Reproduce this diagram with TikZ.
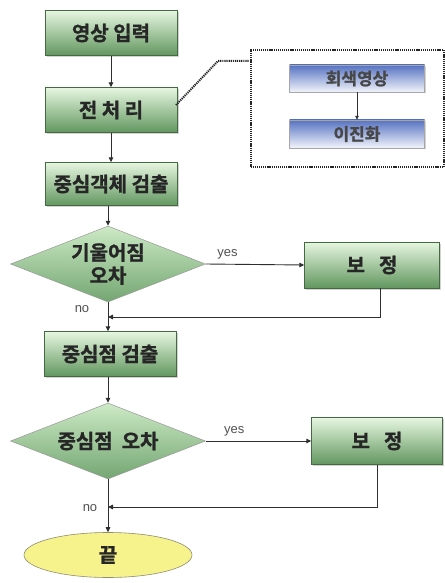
\documentclass[tikz,border=0pt]{standalone}
\usepackage{fontspec}
\newfontfamily\kr{Noto Sans CJK KR}[BoldFont={Noto Sans CJK KR Bold}, BoldFeatures={FakeBold=1.2}]
\newfontfamily\lat{Liberation Sans}
\usetikzlibrary{shapes.geometric,arrows.meta,shadows}
\definecolor{gtop}{HTML}{E6F6E0}
\definecolor{gbot}{HTML}{62975F}
\definecolor{dtop}{HTML}{CDEAC6}
\definecolor{dbot}{HTML}{73A671}
\definecolor{btop}{HTML}{5673C2}
\definecolor{bbot}{HTML}{F2F4FB}
\definecolor{txt}{HTML}{262626}
\definecolor{lin}{HTML}{2E2E2E}
\definecolor{ell}{HTML}{F7F38C}
\tikzset{
  greenbox/.style={draw=gbot!70!black, line width=0.4pt, top color=gtop, bottom color=gbot,
    minimum width=132pt, minimum height=45pt, inner sep=0pt,
    font=\kr\bfseries\fontsize{20}{22}\selectfont, text=txt,
    drop shadow={shadow xshift=1.5pt, shadow yshift=-1.5pt, opacity=0.35}},
  bluebox/.style={draw=gray!70, line width=0.4pt, top color=btop, bottom color=bbot,
    minimum width=135pt, minimum height=27pt, inner sep=0pt,
    font=\kr\bfseries\fontsize{17}{19}\selectfont, text=txt!85,
    drop shadow={shadow xshift=1.2pt, shadow yshift=-1.2pt, opacity=0.35}},
  decide/.style={diamond, draw=gray!80, line width=0.5pt, top color=dtop, bottom color=dbot,
    minimum width=195pt, minimum height=76pt, inner sep=0pt, aspect=2.56},
  dtext/.style={font=\kr\bfseries\fontsize{20}{23}\selectfont, text=txt, align=center},
  flow/.style={draw=lin, line width=0.9pt, -{Triangle[length=5pt,width=4.5pt]}},
  lab/.style={font=\lat\fontsize{13}{15}\selectfont, text=txt!80},
  dotline/.style={draw=black!85, line width=2pt, dash pattern=on 1.2pt off 0.9pt},
}
\begin{document}
\begin{tikzpicture}[x=1pt,y=-1pt]
\useasboundingbox (0,0) rectangle (444,583);
\fill[white] (0,0) rectangle (444,583);

\node[greenbox] (in) at (111,33) {영상 입력};
\node[greenbox] (pre) at (111,110) {전 처 리};
\node[greenbox, minimum height=43pt] (obj) at (111,184) {중심객체 검출};
\node[decide] (d1) at (108,264) {};
\node[dtext] (d1t) at (108,264) {기울어짐\\오차};
\node[greenbox, minimum width=135pt, minimum height=46pt] (fix1) at (372,265) {보\hspace{14pt}정};
\node[greenbox, minimum height=45pt] (cp) at (110,354) {중심점 검출};
\node[decide] (d2) at (108,441) {};
\node[dtext] (d2t) at (108,441) {중심점\hspace{9pt}오차};
\node[greenbox, minimum width=131pt, minimum height=47pt] (fix2) at (377,441) {보\hspace{14pt}정};
\node[ellipse, draw=gray!80!olive, line width=0.6pt, fill=ell, minimum width=168pt, minimum height=45pt,
  font=\kr\bfseries\fontsize{20}{22}\selectfont, text=txt] (end) at (108,555) {끝};

% inset
\node[dotline, minimum width=193pt, minimum height=117pt] (inset) at (347,108.5) {};
\node[bluebox] (gray) at (357,78.5) {회색영상};
\node[bluebox, minimum height=28pt] (bin) at (357,134) {이진화};
\draw[flow, line width=0.6pt, -{Triangle[length=4pt,width=3.5pt]}] (gray) -- (bin);
\coordinate (k1) at (176,105);
\coordinate (k2) at (218,61);
\draw[dotline] (k1) -- (k2) -- (k2 -| inset.west);

% main flow
\draw[flow] (in) -- (pre);
\draw[flow] (pre) -- (obj);
\draw[flow] (obj.south -| d1.north) -- (d1.north);
\draw[flow] (d1.east) -- (fix1.west) node[lab, pos=0.22, above=1pt] {yes};
\draw[flow] (d1.south) -- (d1.south |- cp.north);
\node[lab] (no1) at (82,309) {no};
\coordinate (j1) at (108,317);
\draw[flow] ([xshift=8pt]fix1.south) |- (j1);

\draw[flow] (cp.south -| d2.north) -- (d2.north);
\draw[flow] (d2.east) -- (fix2.west) node[lab, pos=0.27, above=1pt] {yes};
\draw[flow] (d2.south) -- (end.north);
\node[lab] (no2) at (90,508) {no};
\coordinate (j2) at (108,507);
\draw[flow] (fix2.south) |- (j2);
\end{tikzpicture}
\end{document}
